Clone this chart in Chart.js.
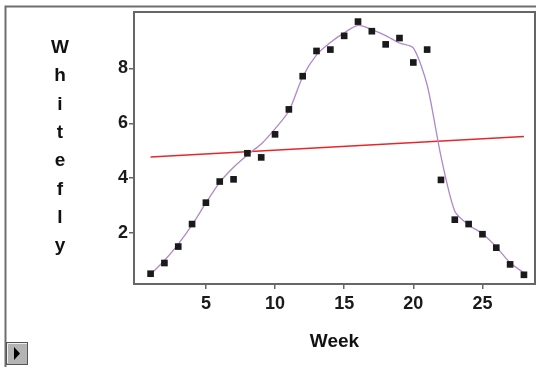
<!DOCTYPE html>
<html>
<head>
<meta charset="utf-8">
<script src="https://cdn.jsdelivr.net/npm/chart.js@4.4.1/dist/chart.umd.min.js"></script>
<style>
  html, body { margin: 0; padding: 0; background: #fff; }
  canvas { display: block; }
</style>
</head>
<body>
<canvas id="chart" width="536" height="367" style="width:536px;height:367px"></canvas>
<script>
// ── Data ───────────────────────────────────────────────
const weeks = [1, 2, 3, 4, 5, 6, 7, 8, 9, 10, 11, 12, 13, 14,
               15, 16, 17, 18, 19, 20, 21, 22, 23, 24, 25, 26, 27, 28];
const whitefly = [0.52, 0.91, 1.51, 2.33, 3.11, 3.88, 3.96, 4.91, 4.76, 5.6, 6.51, 7.72, 8.64, 8.69,
                  9.19, 9.71, 9.36, 8.88, 9.11, 8.22, 8.69, 3.94, 2.49, 2.33, 1.96, 1.47, 0.86, 0.48];
const smoothFit = [0.5, 1.0, 1.6, 2.3, 3.1, 3.85, 4.4, 4.85, 5.25, 5.8, 6.45, 7.7, 8.5, 8.95,
                   9.3, 9.57, 9.42, 9.2, 8.93, 8.75, 7.4, 4.8, 2.8, 2.3, 1.98, 1.5, 0.92, 0.55];
const lineWeeks = [1, 28];
const lineFit = [4.77, 5.52];

const xTicks = [5, 10, 15, 20, 25];
const yTicks = [2, 4, 6, 8];
const xTitle = 'Week';
const yTitle = 'Whitefly';

const toPoints = (xs, ys) => xs.map((x, i) => ({ x: x, y: ys[i] }));

// ── Frame, stacked y title, corner button ──────────────
const decorations = {
    id: 'decorations',
    beforeDraw(chart) {
        const ctx = chart.ctx;
        ctx.save();
        ctx.fillStyle = '#fff';
        ctx.fillRect(0, 0, chart.width, chart.height);
        ctx.strokeStyle = '#6e6e6e';
        ctx.lineWidth = 2;
        ctx.beginPath();
        ctx.moveTo(5.5, chart.height);
        ctx.lineTo(5.5, 6.5);
        ctx.lineTo(chart.width, 6.5);
        ctx.stroke();
        ctx.restore();
    },
    afterDraw(chart) {
        const ctx = chart.ctx;
        const a = chart.chartArea;
        ctx.save();
        // plot frame
        ctx.strokeStyle = '#666';
        ctx.lineWidth = 2;
        ctx.strokeRect(a.left, a.top, a.right - a.left, a.bottom - a.top);

        // y title, one letter per line
        ctx.fillStyle = '#111';
        ctx.font = 'bold 19px "Liberation Sans", sans-serif';
        ctx.textAlign = 'center';
        ctx.textBaseline = 'alphabetic';
        yTitle.split('').forEach((ch, i) => {
            ctx.fillText(ch, 60, 53 + i * 28.3);
        });

        // x title
        ctx.fillText(xTitle, (a.left + a.right) / 2, 347);

        // little button in the corner
        ctx.fillStyle = '#b4b4b4';
        ctx.fillRect(6, 342, 22, 23);
        ctx.strokeStyle = '#555';
        ctx.lineWidth = 1;
        ctx.strokeRect(6.5, 342.5, 21, 22);
        ctx.strokeStyle = '#eee';
        ctx.beginPath();
        ctx.moveTo(7.5, 363);
        ctx.lineTo(7.5, 343.5);
        ctx.lineTo(27, 343.5);
        ctx.stroke();
        ctx.fillStyle = '#000';
        ctx.beginPath();
        ctx.moveTo(14, 347);
        ctx.lineTo(20, 353.5);
        ctx.lineTo(14, 360);
        ctx.closePath();
        ctx.fill();
        ctx.restore();
    }
};

new Chart(document.getElementById('chart'), {
    type: 'scatter',
    data: {
        datasets: [
            {
                label: 'Smooth',
                data: toPoints(weeks, smoothFit),
                showLine: true,
                borderColor: '#b088cc',
                borderWidth: 1.3,
                pointRadius: 0,
                tension: 0.25,
                order: 2
            },
            {
                label: 'Linear fit',
                data: toPoints(lineWeeks, lineFit),
                showLine: true,
                borderColor: '#e8262a',
                borderWidth: 1.5,
                pointRadius: 0,
                order: 3
            },
            {
                label: 'Whitefly',
                data: toPoints(weeks, whitefly),
                pointStyle: 'rect',
                pointRadius: 4.7,
                backgroundColor: '#1a1a1a',
                borderColor: '#1a1a1a',
                borderWidth: 0,
                order: 1
            }
        ]
    },
    options: {
        responsive: false,
        animation: false,
        layout: { autoPadding: false, padding: { left: 0, right: 1, top: 12, bottom: 0 } },
        plugins: {
            legend: { display: false },
            tooltip: { enabled: false }
        },
        scales: {
            x: {
                type: 'linear',
                min: -0.2,
                max: 28.8,
                afterBuildTicks: (s) => { s.ticks = xTicks.map(v => ({ value: v })); },
                afterFit: (s) => { s.height = 83; },
                grid: { drawOnChartArea: false, drawTicks: true, tickLength: 5, color: '#666', lineWidth: 1.5 },
                border: { display: true, color: '#666', width: 2 },
                ticks: {
                    color: '#1a1a1a',
                    padding: 4,
                    maxRotation: 0,
                    font: { family: '"Liberation Sans", sans-serif', size: 18, weight: 'bold' }
                }
            },
            y: {
                min: 0.145,
                max: 10.06,
                afterBuildTicks: (s) => { s.ticks = yTicks.map(v => ({ value: v })); },
                afterFit: (s) => { s.width = 134; },
                grid: { drawOnChartArea: false, drawTicks: true, tickLength: 5, color: '#666', lineWidth: 1.5 },
                border: { display: true, color: '#666', width: 2 },
                ticks: {
                    color: '#1a1a1a',
                    padding: 1,
                    font: { family: '"Liberation Sans", sans-serif', size: 18, weight: 'bold' }
                }
            }
        }
    },
    plugins: [decorations]
});
</script>
</body>
</html>
